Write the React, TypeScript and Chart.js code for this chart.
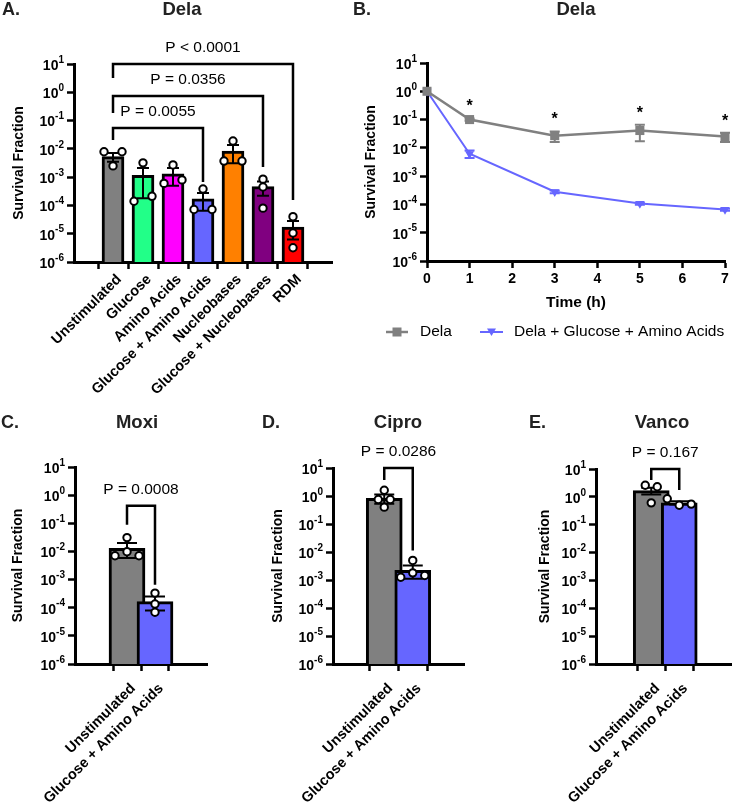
import React, { useEffect, useRef } from 'react';
import { Chart, registerables } from 'chart.js';
Chart.register(...registerables);

const FONT = '"Liberation Sans", Arial, Helvetica, sans-serif';
const W = 732;
const H = 808;
const EXPONENTS = [1, 0, -1, -2, -3, -4, -5, -6];

// ---------- Panel A data ----------
const catsA = ['Unstimulated', 'Glucose', 'Amino Acids', 'Glucose + Amino Acids', 'Nucleobases', 'Glucose + Nucleobases', 'RDM'];
const colorsA = ['#808080', '#22FF88', '#FF00FF', '#6666FF', '#FF8000', '#800080', '#FF0000'];
const meansA = [5.3e-3, 1.15e-3, 1.3e-3, 1.7e-4, 8.4e-3, 4.6e-4, 1.73e-5];
const semA = [1.8e-3, 0.97e-3, 0.8e-3, 1.05e-4, 5.3e-3, 2.4e-4, 1.1e-5];
const pointsA = [
  [7.9e-3, 7.9e-3, 2.5e-3],
  [3.2e-3, 1.4e-4, 2.1e-4],
  [2.7e-3, 6e-4, 8e-4],
  [3.8e-4, 7.2e-5, 7.2e-5],
  [1.9e-2, 3.7e-3, 3.7e-3],
  [8.5e-4, 4.5e-4, 8e-5],
  [4e-5, 1.06e-5, 3.2e-6],
];
const bracketsA = [
  { from: 0, to: 3, y: 0.0546, left: 0.0206, right: 6.7e-4, label: 'P = 0.0055' },
  { from: 0, to: 5, y: 0.74, left: 0.185, right: 2.29e-3, label: 'P = 0.0356' },
  { from: 0, to: 6, y: 10, left: 3.2, right: 1.56e-4, label: 'P < 0.0001' },
];

// ---------- Panel B data ----------
const timesB = [0, 1, 3, 5, 7];
const delaB = [1, 0.1, 0.027, 0.041, 0.025];
const delaErrB = [0, 0.01, 0.011, 0.024, 0.009];
const delaGaaB = [1, 0.0062, 2.8e-4, 1.07e-4, 6.6e-5];
const delaGaaErrB = [0, 0.0018, 3e-5, 1e-5, 6e-6];
const sigB = ['', '*', '*', '*', '*'];
const seriesNamesB = ['Dela', 'Dela + Glucose + Amino Acids'];

// ---------- Panels C, D, E data ----------
const catsBottom = ['Unstimulated', 'Glucose + Amino Acids'];
const colorsBottom = ['#808080', '#6666FF'];

const moxiMeans = [0.0129, 1.65e-4];
const moxiSem = [0.007, 0.85e-4];
const moxiPoints = [[0.031, 0.007, 0.0098, 0.007], [3.3e-4, 1.35e-4, 6.9e-5]];
const moxiBrackets = [{ from: 0, to: 1, y: 0.42, left: 0.089, right: 6.6e-4, label: 'P = 0.0008' }];

const ciproMeans = [0.83, 2.2e-3];
const ciproSem = [0.3, 1.1e-3];
const ciproPoints = [[1.6, 0.75, 0.75, 0.4], [5e-3, 1.25e-3, 1.8e-3, 1.45e-3]];
const ciproBrackets = [{ from: 0, to: 1, y: 10, left: 3.7, right: 0.0112, label: 'P = 0.0286' }];

const vancoMeans = [1.67, 0.61];
const vancoSem = [0.45, 0.08];
const vancoPoints = [[2.6, 2.3, 0.61], [0.85, 0.5, 0.55]];
const vancoBrackets = [{ from: 0, to: 1, y: 10, left: 4.0, right: 1.77, label: 'P = 0.167' }];

// ---------- helpers ----------
function text(ctx: CanvasRenderingContext2D, s: string, x: number, y: number, font: string, align: CanvasTextAlign = 'center', baseline: CanvasTextBaseline = 'alphabetic', color = '#000') {
  ctx.save();
  ctx.font = font;
  ctx.textAlign = align;
  ctx.textBaseline = baseline;
  ctx.fillStyle = color;
  ctx.fillText(s, x, y);
  ctx.restore();
}

function drawYTitle(ctx: CanvasRenderingContext2D, s: string, x: number, y: number) {
  ctx.save();
  ctx.translate(x, y);
  ctx.rotate(-Math.PI / 2);
  ctx.font = `bold 14px ${FONT}`;
  ctx.textAlign = 'center';
  ctx.textBaseline = 'middle';
  ctx.fillStyle = '#000';
  ctx.fillText(s, 0, 0);
  ctx.restore();
}

function drawLogTicks(chart: any) {
  const ctx: CanvasRenderingContext2D = chart.ctx;
  const ys = chart.scales.y;
  const right = chart.chartArea.left - 10;
  ctx.save();
  ctx.fillStyle = '#000';
  ctx.textAlign = 'left';
  ctx.textBaseline = 'middle';
  EXPONENTS.forEach((e) => {
    const py = ys.getPixelForValue(Math.pow(10, e));
    const exp = String(e);
    ctx.font = `bold 10px ${FONT}`;
    const we = ctx.measureText(exp).width;
    ctx.font = `bold 14px ${FONT}`;
    const wb = ctx.measureText('10').width;
    ctx.fillText('10', right - we - wb, py + 2);
    ctx.font = `bold 10px ${FONT}`;
    ctx.fillText(exp, right - we, py - 4);
  });
  ctx.restore();
}

function drawRotatedCats(chart: any, cats: string[], dy: number) {
  const ctx: CanvasRenderingContext2D = chart.ctx;
  const xs = chart.scales.x;
  const base = chart.chartArea.bottom;
  ctx.save();
  ctx.font = `bold 14.5px ${FONT}`;
  ctx.fillStyle = '#000';
  ctx.textAlign = 'right';
  ctx.textBaseline = 'top';
  cats.forEach((c, i) => {
    const x = xs.getPixelForValue(i);
    ctx.save();
    ctx.translate(x + 1, base + dy);
    ctx.rotate(-Math.PI / 4);
    ctx.fillText(c, 0, 0);
    ctx.restore();
  });
  ctx.restore();
}

function layoutPoints(ys: number[], pair: number, multi: number): number[] {
  const idx = ys.map((_, i) => i).sort((a, b) => ys[a] - ys[b]);
  const offs = new Array(ys.length).fill(0);
  let group: number[] = [idx[0]];
  const flush = () => {
    const g = [...group].sort((a, b) => a - b);
    const k = g.length;
    const sp = k === 2 ? pair : multi;
    g.forEach((gi, j) => { offs[gi] = (j - (k - 1) / 2) * sp; });
  };
  for (let n = 1; n < idx.length; n++) {
    if (ys[idx[n]] - ys[idx[n - 1]] < 6) group.push(idx[n]);
    else { flush(); group = [idx[n]]; }
  }
  flush();
  return offs;
}

function axisStyle() {
  return {
    grid: { display: true, drawOnChartArea: false, drawTicks: true, tickLength: 7, tickWidth: 2.5, tickColor: '#000', color: '#000' },
    border: { display: true, color: '#000', width: 3 },
  };
}

type Bracket = { from: number; to: number; y: number; left: number; right: number; label: string };
type Layout = {
  area: { L: number; R: number; T: number; B: number };
  xMin: number; xMax: number; barPx: number; capPx: number; pair: number; labelDy: number;
  title: string; titleX: number; titleY: number; letter: string; letterX: number; yTitleX: number;
};

function barConfig(cats: string[], colors: string[], means: number[], sems: number[], points: number[][], brackets: Bracket[], lay: Layout): any {
  const { L, R, T, B } = lay.area;
  const decor = {
    id: 'decor',
    afterDraw(chart: any) {
      const ctx: CanvasRenderingContext2D = chart.ctx;
      const xs = chart.scales.x;
      const ys = chart.scales.y;
      // error bars
      ctx.save();
      ctx.strokeStyle = '#000';
      ctx.lineWidth = 2;
      means.forEach((m, i) => {
        const x = xs.getPixelForValue(i);
        const yt = ys.getPixelForValue(m + sems[i]);
        const yb = ys.getPixelForValue(Math.max(m - sems[i], 1e-7));
        const hc = lay.capPx / 2;
        ctx.beginPath();
        ctx.moveTo(x, yt); ctx.lineTo(x, yb);
        ctx.moveTo(x - hc, yt); ctx.lineTo(x + hc, yt);
        ctx.moveTo(x - hc, yb); ctx.lineTo(x + hc, yb);
        ctx.stroke();
      });
      // replicate points
      ctx.lineWidth = 2;
      points.forEach((arr, i) => {
        const x = xs.getPixelForValue(i);
        const pys = arr.map((v) => ys.getPixelForValue(v));
        const offs = layoutPoints(pys, lay.pair, 12);
        pys.forEach((py, j) => {
          ctx.beginPath();
          ctx.arc(x + offs[j], py, 3.7, 0, Math.PI * 2);
          ctx.fillStyle = '#fff';
          ctx.fill();
          ctx.stroke();
        });
      });
      // brackets
      ctx.lineWidth = 2.5;
      ctx.lineJoin = 'miter';
      brackets.forEach((b) => {
        const x1 = xs.getPixelForValue(b.from);
        const x2 = xs.getPixelForValue(b.to);
        const yb = ys.getPixelForValue(b.y);
        ctx.beginPath();
        ctx.moveTo(x1, ys.getPixelForValue(b.left));
        ctx.lineTo(x1, yb);
        ctx.lineTo(x2, yb);
        ctx.lineTo(x2, ys.getPixelForValue(b.right));
        ctx.stroke();
        text(ctx, b.label, (x1 + x2) / 2, yb - 16, `15.5px ${FONT}`, 'center', 'middle');
      });
      ctx.restore();
      drawLogTicks(chart);
      drawRotatedCats(chart, cats, lay.labelDy);
      drawYTitle(ctx, 'Survival Fraction', lay.yTitleX, (T + B) / 2);
      text(ctx, lay.title, lay.titleX, lay.titleY, `bold 18.5px ${FONT}`, 'center', 'alphabetic', '#222');
      text(ctx, lay.letter, lay.letterX, lay.titleY, `bold 18px ${FONT}`, 'left', 'alphabetic', '#222');
    },
  };
  return {
    type: 'bar',
    data: {
      datasets: [{
        data: means.map((m, i) => ({ x: i, y: m })),
        backgroundColor: colors,
        borderColor: '#000',
        borderWidth: 3,
        barThickness: lay.barPx,
      }],
    },
    options: {
      responsive: false,
      animation: false,
      devicePixelRatio: 1,
      events: [],
      layout: { autoPadding: false, padding: { left: L - 10, right: W - R, top: T, bottom: H - B - 10 } },
      plugins: { legend: { display: false }, tooltip: { enabled: false }, title: { display: false } },
      scales: {
        x: {
          type: 'linear', min: lay.xMin, max: lay.xMax, bounds: 'data', z: 1,
          afterFit(s: any) { s.height = 10; s.paddingLeft = 0; s.paddingRight = 0; },
          afterBuildTicks(s: any) { s.ticks = cats.map((_, i) => ({ value: i })); },
          ticks: { display: false },
          ...axisStyle(),
        },
        y: {
          type: 'logarithmic', min: 1e-6, max: 10, z: 1,
          afterFit(s: any) { s.width = 10; s.paddingTop = 0; s.paddingBottom = 0; },
          afterBuildTicks(s: any) { s.ticks = EXPONENTS.map((e) => ({ value: Math.pow(10, e) })); },
          ticks: { display: false },
          ...axisStyle(),
        },
      },
    },
    plugins: [decor],
  };
}

function lineConfig(): any {
  const L = 427, R = 725, T = 63, B = 261;
  const XB = 40;
  const series = [
    { vals: delaB, errs: delaErrB, color: '#808080' },
    { vals: delaGaaB, errs: delaGaaErrB, color: '#6666FF' },
  ];
  const decor = {
    id: 'decorB',
    beforeDatasetsDraw(chart: any) {
      const ctx: CanvasRenderingContext2D = chart.ctx;
      const xs = chart.scales.x;
      const ys = chart.scales.y;
      ctx.save();
      ctx.lineWidth = 2;
      series.forEach((s) => {
        ctx.strokeStyle = s.color;
        s.vals.forEach((v, i) => {
          if (!s.errs[i]) return;
          const x = xs.getPixelForValue(timesB[i]);
          const yt = ys.getPixelForValue(v + s.errs[i]);
          const yb = ys.getPixelForValue(Math.max(v - s.errs[i], 1e-7));
          ctx.beginPath();
          ctx.moveTo(x, yt); ctx.lineTo(x, yb);
          ctx.moveTo(x - 5, yt); ctx.lineTo(x + 5, yt);
          ctx.moveTo(x - 5, yb); ctx.lineTo(x + 5, yb);
          ctx.stroke();
        });
      });
      ctx.restore();
    },
    afterDraw(chart: any) {
      const ctx: CanvasRenderingContext2D = chart.ctx;
      const xs = chart.scales.x;
      const ys = chart.scales.y;
      sigB.forEach((s, i) => {
        if (!s) return;
        const x = xs.getPixelForValue(timesB[i]);
        const yt = ys.getPixelForValue(delaB[i] + delaErrB[i]);
        text(ctx, s, x, yt - 7, `bold 16px ${FONT}`, 'center', 'alphabetic');
      });
      drawLogTicks(chart);
      drawYTitle(ctx, 'Survival Fraction', 371, (T + B) / 2);
      text(ctx, 'Time (h)', (L + R) / 2, 303, `bold 15.5px ${FONT}`, 'center', 'middle');
      text(ctx, 'Dela', 576, 15, `bold 18.5px ${FONT}`, 'center', 'alphabetic', '#222');
      text(ctx, 'B.', 353, 15, `bold 18px ${FONT}`, 'left', 'alphabetic', '#222');
      // legend
      const ly = 332;
      ctx.save();
      ctx.lineWidth = 2.5;
      ctx.strokeStyle = '#808080';
      ctx.beginPath(); ctx.moveTo(386, ly); ctx.lineTo(408, ly); ctx.stroke();
      ctx.fillStyle = '#808080';
      ctx.fillRect(397 - 4.5, ly - 4.5, 9, 9);
      ctx.lineWidth = 2;
      ctx.strokeStyle = '#6666FF';
      ctx.beginPath(); ctx.moveTo(480, ly); ctx.lineTo(503, ly); ctx.stroke();
      ctx.fillStyle = '#6666FF';
      ctx.beginPath(); ctx.moveTo(487, ly - 3.5); ctx.lineTo(496, ly - 3.5); ctx.lineTo(491.5, ly + 4); ctx.closePath(); ctx.fill();
      ctx.restore();
      text(ctx, seriesNamesB[0], 420, ly, `15.5px ${FONT}`, 'left', 'middle');
      text(ctx, seriesNamesB[1], 514, ly, `15.5px ${FONT}`, 'left', 'middle');
    },
  };
  return {
    type: 'line',
    data: {
      datasets: [
        {
          label: seriesNamesB[0],
          data: timesB.map((t, i) => ({ x: t, y: delaB[i] })),
          borderColor: '#808080', backgroundColor: '#808080', borderWidth: 2.5,
          pointStyle: 'rect', pointRadius: 6.4, pointBorderWidth: 0, clip: false, tension: 0,
        },
        {
          label: seriesNamesB[1],
          data: timesB.map((t, i) => ({ x: t, y: delaGaaB[i] })),
          borderColor: '#6666FF', backgroundColor: '#6666FF', borderWidth: 2,
          pointStyle: 'triangle', pointRotation: 180, pointRadius: 5.2, pointBorderWidth: 0, clip: false, tension: 0,
        },
      ],
    },
    options: {
      responsive: false,
      animation: false,
      devicePixelRatio: 1,
      events: [],
      layout: { autoPadding: false, padding: { left: L - 10, right: W - R, top: T, bottom: H - B - XB } },
      plugins: { legend: { display: false }, tooltip: { enabled: false }, title: { display: false } },
      scales: {
        x: {
          type: 'linear', min: 0, max: 7, bounds: 'data',
          afterFit(s: any) { s.height = XB; s.paddingLeft = 0; s.paddingRight = 0; },
          ticks: { stepSize: 1, autoSkip: false, minRotation: 0, maxRotation: 0, padding: 3, color: '#000', font: { family: FONT, size: 14, weight: 'bold' } },
          ...axisStyle(),
        },
        y: {
          type: 'logarithmic', min: 1e-6, max: 10,
          afterFit(s: any) { s.width = 10; s.paddingTop = 0; s.paddingBottom = 0; },
          afterBuildTicks(s: any) { s.ticks = EXPONENTS.map((e) => ({ value: Math.pow(10, e) })); },
          ticks: { display: false },
          ...axisStyle(),
        },
      },
    },
    plugins: [decor],
  };
}

const layoutA: Layout = { area: { L: 74, R: 332, T: 64, B: 262 }, xMin: -0.686, xMax: 6.686, barPx: 22, capPx: 12, pair: 18, labelDy: 10, title: 'Dela', titleX: 182, titleY: 15, letter: 'A.', letterX: 2, yTitleX: 19 };
const layoutC: Layout = { area: { L: 75, R: 207, T: 467, B: 664 }, xMin: -0.679, xMax: 1.679, barPx: 36, capPx: 20, pair: 12, labelDy: 17, title: 'Moxi', titleX: 137, titleY: 428, letter: 'C.', letterX: 1, yTitleX: 18.5 };
const layoutD: Layout = { area: { L: 333, R: 464, T: 468, B: 664 }, xMin: -0.649, xMax: 1.649, barPx: 36, capPx: 20, pair: 12, labelDy: 17, title: 'Cipro', titleX: 398, titleY: 428, letter: 'D.', letterX: 262, yTitleX: 278 };
const layoutE: Layout = { area: { L: 596, R: 732, T: 469, B: 664 }, xMin: -0.759, xMax: 1.67, barPx: 36, capPx: 20, pair: 12, labelDy: 17, title: 'Vanco', titleX: 662, titleY: 428, letter: 'E.', letterX: 529, yTitleX: 545.5 };

function ChartLayer({ make }: { make: () => any }) {
  const ref = useRef<HTMLCanvasElement>(null);
  useEffect(() => {
    const chart = new Chart(ref.current as HTMLCanvasElement, make());
    return () => chart.destroy();
  }, []);
  return <canvas ref={ref} width={W} height={H} style={{ position: 'absolute', left: 0, top: 0, width: W, height: H }} />;
}

export default function App() {
  return (
    <div style={{ position: 'absolute', left: 0, top: 0, width: W, height: H, background: '#fff', overflow: 'hidden' }}>
      <ChartLayer make={() => barConfig(catsA, colorsA, meansA, semA, pointsA, bracketsA, layoutA)} />
      <ChartLayer make={() => lineConfig()} />
      <ChartLayer make={() => barConfig(catsBottom, colorsBottom, moxiMeans, moxiSem, moxiPoints, moxiBrackets, layoutC)} />
      <ChartLayer make={() => barConfig(catsBottom, colorsBottom, ciproMeans, ciproSem, ciproPoints, ciproBrackets, layoutD)} />
      <ChartLayer make={() => barConfig(catsBottom, colorsBottom, vancoMeans, vancoSem, vancoPoints, vancoBrackets, layoutE)} />
    </div>
  );
}
